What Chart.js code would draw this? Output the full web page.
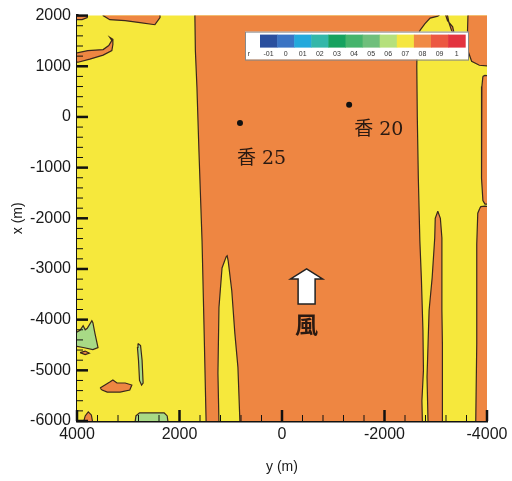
<!DOCTYPE html>
<html>
<head>
<meta charset="utf-8">
<script src="https://cdn.jsdelivr.net/npm/chart.js@4"></script>
<style>
  body { margin: 0; background: #fff; }
</style>
</head>
<body>
<canvas id="grafic" width="512" height="481"></canvas>
<script>
// contour regions, [y (m), x (m)] pairs
const fullArea = [[4100, 2100], [-4100, 2100], [-4100, -6100], [4100, -6100]];
const mainBand = [[1700, 2050], [1700, 2000], [1690, 1300], [1660, 590], [1620, -690], [1560, -2450], [1520, -4210], [1480, -6050],
  [-2740, -6050], [-2730, -5600], [-2760, -5000], [-2750, -4210], [-2720, -3200], [-2690, -2450], [-2660, -1200], [-2640, 0],
  [-2630, 1000], [-2640, 1600], [-2700, 1720], [-2790, 1840], [-2890, 1950], [-3040, 1990], [-3120, 2050]];
const innerYellow = [[1230, -6050], [1250, -5060], [1230, -3760], [1170, -2980], [1090, -2760], [1070, -2740], [1050, -2840],
  [980, -3430], [920, -4270], [860, -4940], [820, -6050]];
const rightSpike = [[-3040, -1860], [-2990, -2000], [-2980, -2390], [-2930, -3170], [-2870, -3820], [-2850, -4470], [-2830, -5130],
  [-2850, -6050], [-3140, -6050], [-3130, -4500], [-3120, -3820], [-3120, -2390], [-3090, -2000]];
const rightStrip = [[-3860, -1800], [-3820, -1900], [-3800, -2510], [-3800, -3500], [-3800, -4470], [-3780, -6050], [-4100, -6050],
  [-4100, -1780], [-3960, -1760], [-3880, -1770]];
const rightLens = [[-3920, 800], [-3900, 600], [-3890, 100], [-3890, -700], [-3900, -1210], [-3920, -1650], [-3960, -1720],
  [-4100, -1720], [-4100, 800], [-3960, 820]];
const topRight = [[-3630, 2050], [-3620, 1700], [-3630, 1300], [-3700, 1100], [-3850, 1020], [-4100, 1000], [-4100, 2050]];
const topCurl = [[-3180, 2050], [-3230, 1900], [-3330, 1780], [-3360, 1640], [-3310, 1700], [-3260, 1850], [-3220, 2050]];
const topLeftBlob = [[3490, 2050], [3490, 2000], [3360, 1920], [3060, 1900], [2770, 1860], [2480, 1820], [2380, 1960], [2380, 2050]];
const cornerBlob = [[4100, 2050], [3800, 2050], [3800, 1960], [3900, 1920], [4100, 1920]];
const leftBlob = [[4100, 1240], [3790, 1310], [3490, 1330], [3380, 1410], [3320, 1510], [3360, 1570], [3300, 1530], [3300, 1430],
  [3320, 1310], [3490, 1220], [3750, 1140], [3980, 1080], [4100, 1080]];
const greenLeft = [[4100, -4300], [3940, -4210], [3880, -4120], [3840, -4200], [3800, -4170], [3710, -4020], [3690, -4060],
  [3650, -4270], [3590, -4550], [3690, -4590], [3880, -4550], [4100, -4510]];
const orangeDash = [[3940, -4650], [3840, -4620], [3760, -4660], [3840, -4690]];
const greenStreak = [[2810, -4470], [2760, -4510], [2730, -4800], [2710, -5250], [2740, -5290], [2780, -5200], [2800, -4800], [2820, -4550]];
const orangeLow = [[3550, -5350], [3360, -5230], [3300, -5190], [3220, -5250], [3060, -5250], [2930, -5290], [2970, -5390],
  [3160, -5430], [3410, -5430], [3510, -5390]];
const orangeBottom = [[3880, -6050], [3840, -5900], [3780, -5820], [3720, -5880], [3690, -6050]];
const greenBottom = [[2870, -6050], [2850, -5900], [2780, -5840], [2300, -5840], [2240, -5900], [2220, -6050]];

// receptor sites
const sitePoints = [[820, -120], [-1310, 240]];
const siteLabels = ['香 25', '香 20'];

// colour bar
const barColors = ['#2a4f9e', '#3b74c4', '#23a9dc', '#33b7a9', '#16a25f', '#45b46c', '#6fbf7c', '#b5e07c', '#f5e640', '#f08a45', '#ec5842', '#e3333f'];
const barLabels = ['-01', '0', '01', '02', '03', '04', '05', '06', '07', '08', '09', '1'];

const yellow = '#f6e83c';
const orange = '#ee8642';
const green = '#a8da86';

const layers = [
  { pts: fullArea, color: yellow, line: false },
  { pts: mainBand, color: orange },
  { pts: innerYellow, color: yellow },
  { pts: rightSpike, color: orange },
  { pts: rightStrip, color: orange },
  { pts: rightLens, color: orange },
  { pts: topRight, color: orange },
  { pts: topCurl, color: orange },
  { pts: topLeftBlob, color: orange },
  { pts: cornerBlob, color: orange },
  { pts: leftBlob, color: orange },
  { pts: greenLeft, color: green },
  { pts: orangeDash, color: orange },
  { pts: greenStreak, color: green },
  { pts: orangeLow, color: orange },
  { pts: orangeBottom, color: orange },
  { pts: greenBottom, color: green }
];

const datasets = layers.map((l, i) => ({
  data: [...l.pts, l.pts[0]].map(p => ({ x: p[0], y: p[1] })),
  fill: 'shape',
  backgroundColor: l.color,
  borderColor: l.line === false ? 'rgba(0,0,0,0)' : '#3a281c',
  borderWidth: l.line === false ? 0 : 1.2,
  pointRadius: 0,
  tension: 0,
  order: layers.length - i + 1
}));

datasets.push({
  data: sitePoints.map(p => ({ x: p[0], y: p[1] })),
  showLine: false,
  pointRadius: 3,
  pointBackgroundColor: '#111',
  pointBorderWidth: 0,
  order: 0
});

const extres = {
  id: 'extres',
  afterDatasetsDraw(chart) {
    const ctx = chart.ctx;
    const { x, y } = chart.scales;
    const area = chart.chartArea;
    ctx.save();
    ctx.strokeStyle = '#111';
    // inward tick marks
    for (let v = -6000; v <= 2000; v += 200) {
      const major = v % 1000 === 0;
      const py = y.getPixelForValue(v);
      ctx.lineWidth = major ? 2.5 : 1;
      ctx.beginPath();
      ctx.moveTo(area.left, py);
      ctx.lineTo(area.left + (major ? 11 : 6), py);
      ctx.stroke();
    }
    for (let v = -4000; v <= 4000; v += 400) {
      const major = v % 2000 === 0;
      const px = x.getPixelForValue(v);
      ctx.lineWidth = major ? 2.5 : 1;
      ctx.beginPath();
      ctx.moveTo(px, area.bottom);
      ctx.lineTo(px, area.bottom - (major ? 11 : 6));
      ctx.stroke();
    }
    // site names
    const meta = chart.getDatasetMeta(datasets.length - 1);
    const offs = [[-3, 41], [5, 30]];
    ctx.fillStyle = '#2a1a12';
    ctx.font = '19px "DejaVu Serif", "Noto Sans CJK JP"';
    ctx.textBaseline = 'alphabetic';
    meta.data.forEach((pt, i) => {
      ctx.fillText(siteLabels[i], pt.x + offs[i][0], pt.y + offs[i][1]);
    });
    // wind arrow
    const ax = x.getPixelForValue(-480);
    const ay = y.getPixelForValue(-3000);
    ctx.beginPath();
    ctx.moveTo(ax, ay);
    ctx.lineTo(ax + 16, ay + 10);
    ctx.lineTo(ax + 8.5, ay + 10);
    ctx.lineTo(ax + 8.5, ay + 35);
    ctx.lineTo(ax - 8.5, ay + 35);
    ctx.lineTo(ax - 8.5, ay + 10);
    ctx.lineTo(ax - 16, ay + 10);
    ctx.closePath();
    ctx.fillStyle = '#fff';
    ctx.fill();
    ctx.lineWidth = 1.5;
    ctx.strokeStyle = '#222';
    ctx.stroke();
    ctx.fillStyle = '#2a1a12';
    ctx.font = 'bold 23px "Noto Sans CJK JP"';
    ctx.textAlign = 'center';
    ctx.textBaseline = 'middle';
    ctx.fillText('風', ax, ay + 55);
    ctx.restore();
  },
  afterDraw(chart) {
    const ctx = chart.ctx;
    const area = chart.chartArea;
    const bx = area.left + 168, by = area.top + 16;
    const cw = 17.1;
    ctx.save();
    ctx.fillStyle = '#fff';
    ctx.fillRect(bx, by, 223, 28);
    ctx.strokeStyle = '#888';
    ctx.lineWidth = 1;
    ctx.strokeRect(bx + 0.5, by + 0.5, 223, 28);
    barColors.forEach((c, i) => {
      ctx.fillStyle = c;
      ctx.fillRect(bx + 15 + i * cw, by + 3, cw + 0.5, 13);
    });
    ctx.fillStyle = '#333';
    ctx.font = '7px "Liberation Sans"';
    ctx.textAlign = 'center';
    ctx.textBaseline = 'middle';
    ctx.fillText('r', bx + 4, by + 22);
    barLabels.forEach((t, i) => {
      ctx.fillText(t, bx + 15 + (i + 0.5) * cw, by + 22);
    });
    ctx.restore();
  }
};

new Chart(document.getElementById('grafic'), {
  type: 'line',
  data: { datasets },
  options: {
    responsive: false,
    animation: false,
    events: [],
    layout: { padding: { top: 13, right: 25, left: 0, bottom: 0 } },
    plugins: { legend: { display: false }, tooltip: { enabled: false } },
    scales: {
      x: {
        type: 'linear',
        min: -4000, max: 4000, reverse: true,
        z: 1,
        afterFit: s => { s.height = 60; },
        border: { display: true, color: '#111', width: 2.5 },
        grid: { drawOnChartArea: false, drawTicks: false },
        ticks: { stepSize: 2000, padding: 4, color: '#1a1a1a', font: { family: 'Liberation Sans', size: 16 }, callback: v => String(v) },
        title: { display: true, text: 'y (m)', color: '#1a1a1a', font: { family: 'Liberation Sans', size: 14 }, padding: { top: 5, bottom: 5 } }
      },
      y: {
        type: 'linear',
        min: -6000, max: 2000,
        z: 1,
        afterFit: s => { s.width = 77; },
        border: { display: true, color: '#111', width: 2.5 },
        grid: { drawOnChartArea: false, drawTicks: false },
        ticks: { stepSize: 1000, padding: 6, color: '#1a1a1a', font: { family: 'Liberation Sans', size: 16 }, callback: v => String(v) },
        title: { display: true, text: 'x (m)', color: '#1a1a1a', font: { family: 'Liberation Sans', size: 14 }, padding: { top: 10, bottom: 4 } }
      }
    }
  },
  plugins: [extres]
});
</script>
</body>
</html>
